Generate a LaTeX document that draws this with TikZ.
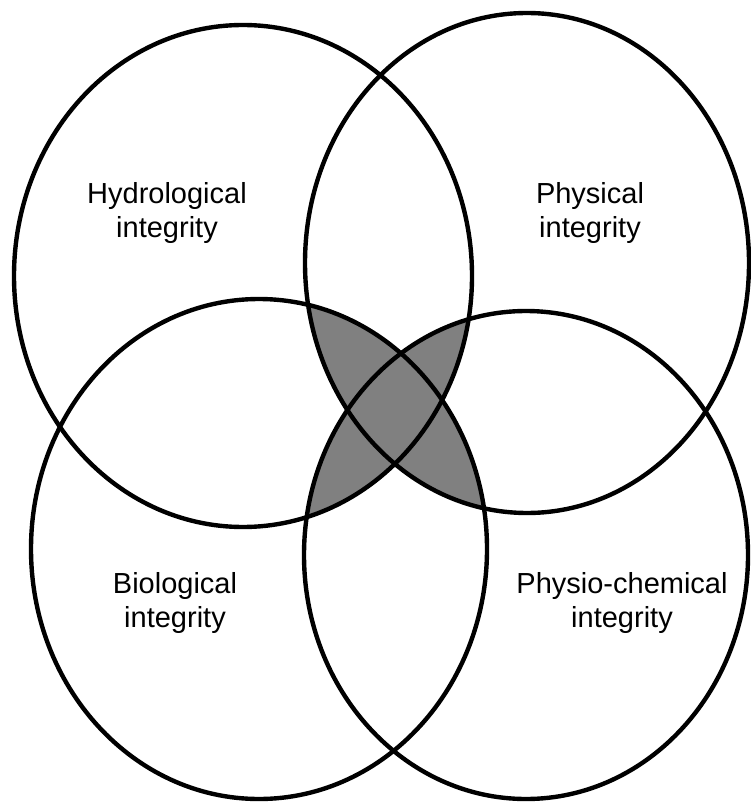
\documentclass[tikz,border=0pt]{standalone}
\usepackage{fontspec}
\setmainfont{Liberation Sans}
\usetikzlibrary{positioning}
\definecolor{myGRAY}{HTML}{808080}
\def\hydroEll{(4.86,-5.52) ellipse [x radius=4.58, y radius=5.02]}
\def\physEll{(10.54,-5.26) ellipse [x radius=4.44, y radius=5.00]}
\def\bioEll{(5.18,-10.98) ellipse [x radius=4.56, y radius=5.00]}
\def\chemEll{(10.52,-11.10) ellipse [x radius=4.44, y radius=4.88]}

\begin{document}
\begin{tikzpicture}[line width=2.5pt, font=\fontsize{16.5}{19}\selectfont]
    \useasboundingbox (0,0) rectangle (15,-16.06);
    % Overlaps
    \begin{scope}
      \clip \hydroEll;
      \fill[myGRAY] \chemEll;
    \end{scope}
    \begin{scope}
      \clip \physEll;
      \fill[myGRAY] \bioEll;
    \end{scope}

    % Ellipses
    \draw \hydroEll;
    \draw \physEll;
    \draw \bioEll;
    \draw \chemEll;

    % Labels
    \node[align=center] (hydro) at (3.34,-4.26) {Hydrological\\integrity};
    \node[align=center] (phys) at (11.8,-4.26) {Physical\\integrity};
    \node[align=center] (bio) at (3.5,-12.06) {Biological\\integrity};
    \node[align=center] (chem) at (12.44,-12.06) {Physio-chemical\\integrity};
  \end{tikzpicture}
\end{document}
